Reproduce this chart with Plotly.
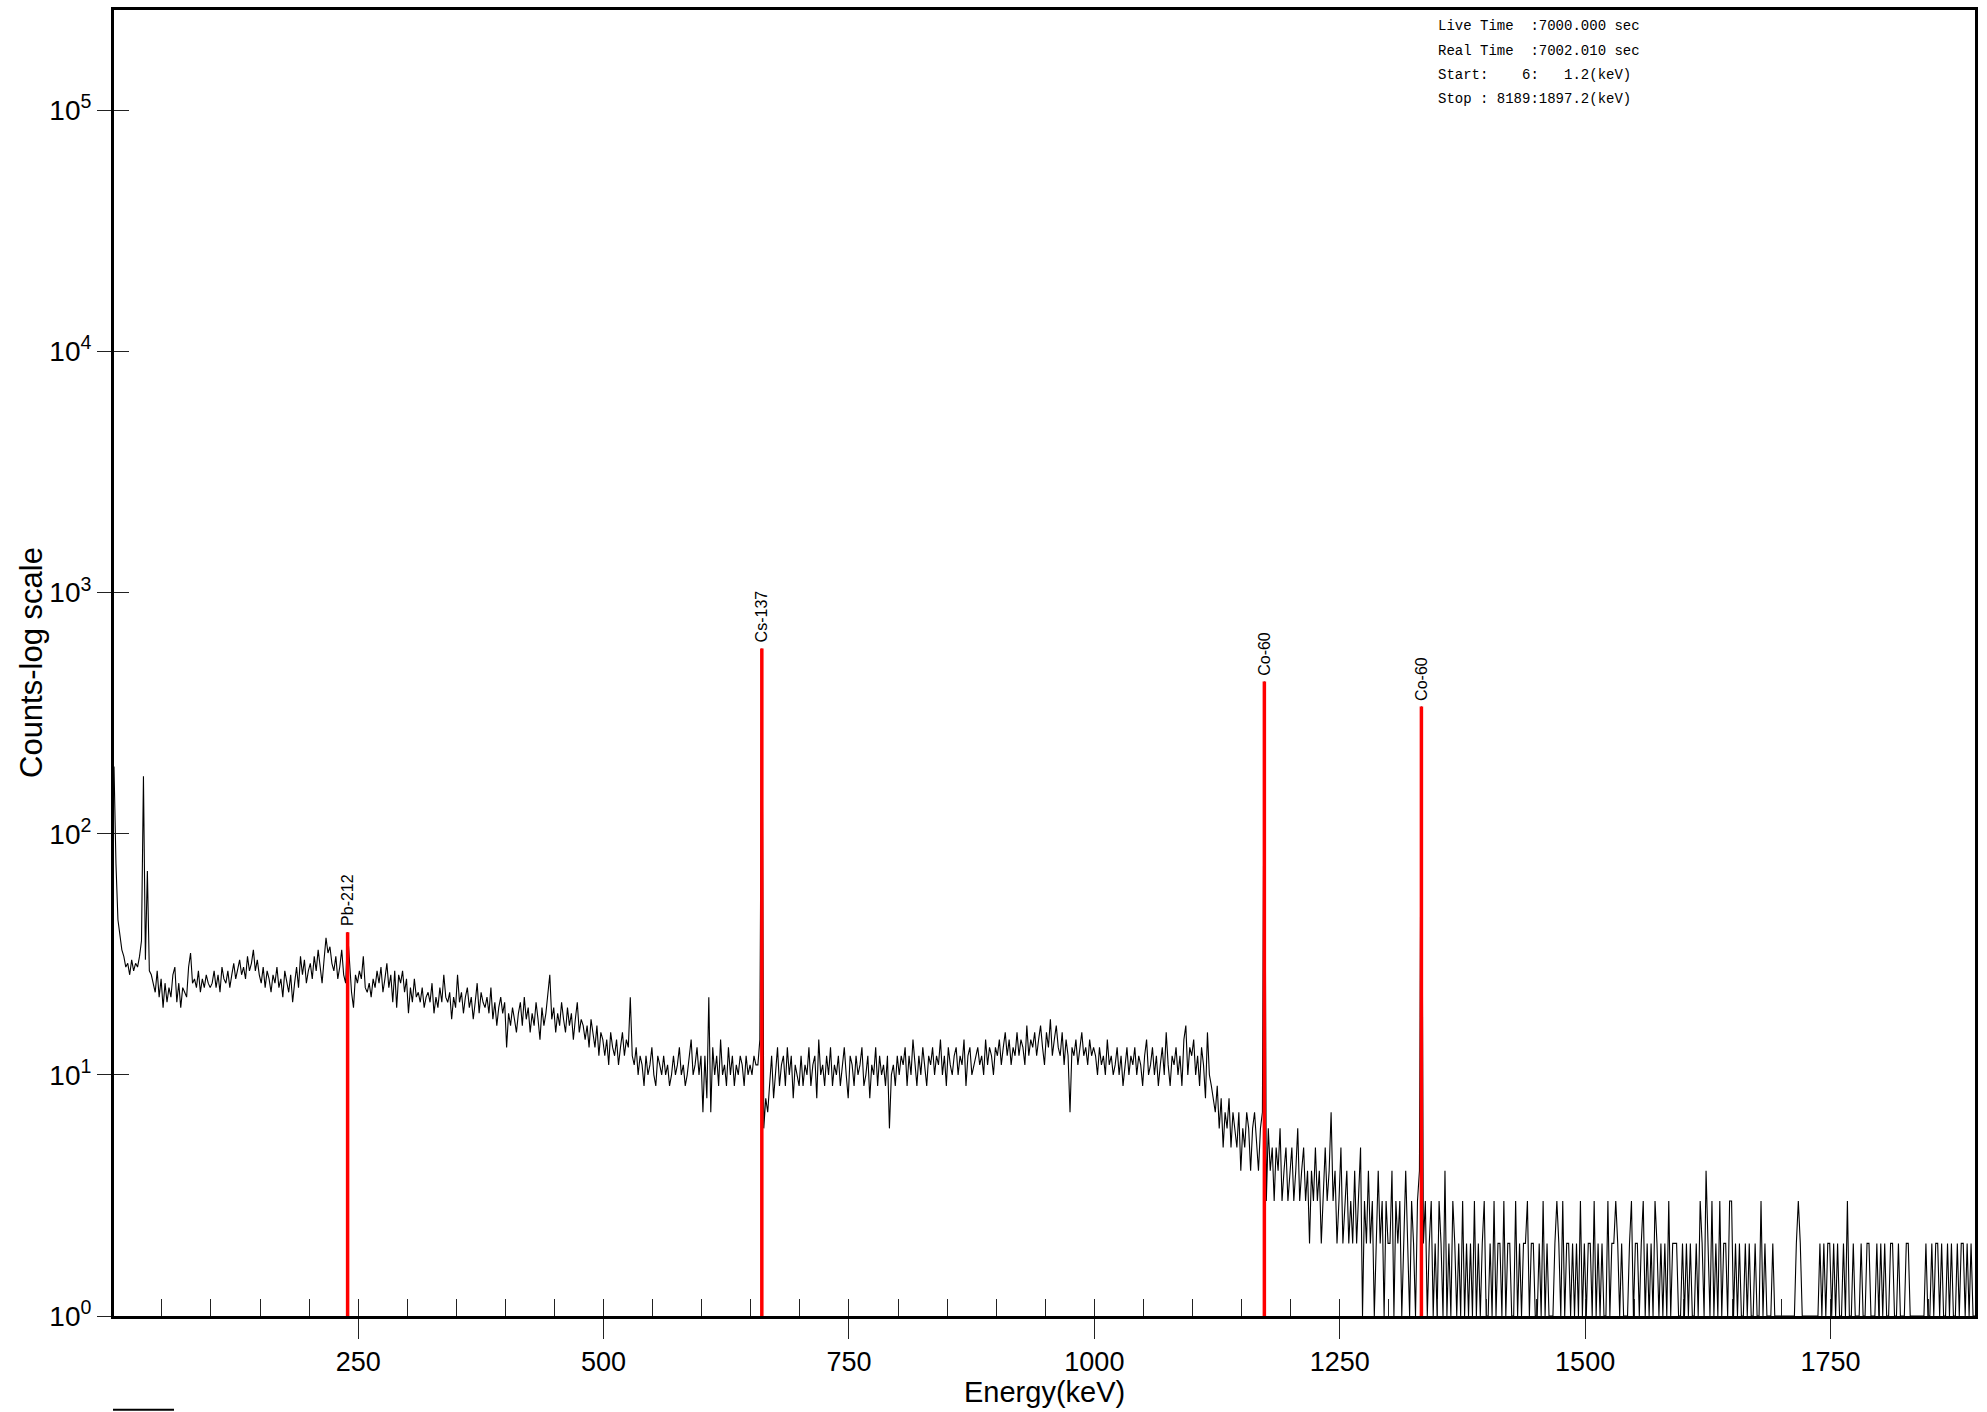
import math
import plotly.graph_objects as go

# ---------------- data ----------------
START_KEV = 1.2          # first displayed channel energy
STEP_KEV = 2.0           # display bin width (keV)

counts_0001_0099 = [190, 75, 44, 37, 33, 31, 28, 29, 26, 30,
                    27, 29, 28, 31, 36, 173, 30, 70, 27, 26,
                    24, 22, 27, 21, 25, 19, 24, 20, 23, 21,
                    26, 28, 20, 24, 19, 23, 22, 21, 28, 32,
                    24, 25, 23, 27, 22, 25, 23, 26, 24, 23]
counts_0101_0199 = [24, 27, 23, 26, 22, 28, 25, 24, 27, 23,
                    26, 29, 25, 27, 30, 26, 28, 25, 31, 27,
                    29, 33, 27, 30, 26, 24, 28, 23, 27, 25,
                    22, 26, 24, 28, 23, 25, 21, 27, 24, 22,
                    26, 20, 24, 28, 23, 31, 26, 30, 24, 27]
counts_0201_0299 = [29, 25, 31, 27, 33, 28, 24, 30, 37, 32,
                    34, 29, 27, 31, 25, 28, 33, 26, 24, 39,
                    28, 22, 19, 26, 24, 27, 25, 31, 23, 22,
                    24, 21, 25, 23, 27, 24, 28, 22, 25, 29,
                    23, 26, 20, 27, 19, 26, 24, 27, 22, 25]
counts_0301_0399 = [18, 23, 20, 25, 21, 22, 20, 23, 19, 21,
                    22, 20, 24, 18, 21, 19, 23, 20, 26, 21,
                    20, 22, 17, 21, 19, 26, 20, 22, 18, 21,
                    23, 19, 21, 17, 20, 24, 18, 22, 20, 19,
                    21, 18, 23, 17, 20, 16, 19, 21, 18, 20]
counts_0401_0499 = [13, 18, 16, 19, 17, 15, 18, 20, 16, 21,
                    17, 19, 15, 18, 16, 20, 17, 14, 19, 16,
                    18, 21, 26, 17, 19, 15, 18, 16, 20, 17,
                    15, 19, 16, 18, 14, 17, 20, 15, 17, 16,
                    14, 16, 13, 17, 15, 13, 16, 12, 15, 14]
counts_0501_0599 = [12, 14, 11, 15, 13, 12, 14, 11, 13, 15,
                    12, 14, 13, 21, 12, 11, 13, 10, 12, 11,
                    9, 12, 10, 11, 13, 10, 9, 12, 11, 10,
                    12, 10, 11, 9, 10, 12, 10, 11, 13, 10,
                    11, 9, 10, 12, 14, 10, 11, 13, 10, 12]
counts_0601_0699 = [7, 12, 8, 21, 7, 13, 10, 12, 9, 14,
                    10, 11, 9, 13, 10, 12, 9, 11, 10, 12,
                    11, 9, 12, 10, 11, 10, 12, 11, 11, 14,
                    586, 6, 8, 7, 9, 12, 8, 10, 13, 9,
                    11, 12, 9, 13, 10, 12, 8, 11, 10, 9]
counts_0701_0799 = [12, 9, 11, 10, 13, 9, 11, 12, 8, 14,
                    10, 11, 9, 12, 10, 13, 9, 11, 10, 12,
                    9, 11, 13, 10, 8, 12, 11, 9, 12, 10,
                    11, 13, 9, 10, 12, 8, 11, 10, 13, 9,
                    12, 10, 11, 9, 12, 6, 10, 11, 9, 12]
counts_0801_0899 = [10, 12, 11, 13, 9, 12, 10, 14, 11, 9,
                    12, 10, 13, 11, 9, 12, 11, 13, 10, 12,
                    11, 14, 10, 12, 9, 13, 11, 10, 12, 13,
                    10, 12, 11, 14, 9, 12, 13, 10, 11, 12,
                    13, 11, 12, 10, 14, 11, 13, 12, 10, 13]
counts_0901_0999 = [12, 14, 11, 13, 15, 12, 14, 11, 13, 12,
                    15, 12, 14, 13, 11, 16, 12, 14, 13, 15,
                    12, 14, 16, 13, 11, 15, 13, 17, 12, 14,
                    16, 13, 12, 15, 11, 14, 12, 7, 13, 12,
                    14, 11, 13, 15, 12, 13, 11, 14, 12, 13]
counts_1001_1099 = [12, 10, 13, 11, 12, 10, 14, 11, 12, 10,
                    11, 13, 10, 12, 9, 11, 13, 10, 12, 11,
                    13, 10, 12, 11, 9, 12, 14, 10, 11, 13,
                    10, 12, 9, 11, 13, 10, 15, 11, 9, 12,
                    11, 13, 10, 12, 9, 14, 16, 10, 13, 12]
counts_1101_1199 = [14, 10, 12, 9, 13, 11, 8, 15, 10, 9,
                    8, 7, 9, 6, 8, 5, 7, 6, 8, 5,
                    7, 6, 5, 7, 4, 6, 5, 7, 6, 4,
                    6, 7, 5, 4, 6, 7, 428, 3, 6, 4,
                    5, 3, 5, 4, 6, 3, 4, 5, 3, 4]
counts_1201_1299 = [5, 3, 4, 6, 3, 4, 5, 3, 4, 2,
                    4, 3, 5, 3, 4, 2, 3, 5, 3, 4,
                    7, 3, 4, 2, 3, 5, 2, 3, 4, 2,
                    3, 2, 4, 2, 3, 5, 1, 3, 2, 4,
                    2, 3, 1, 2, 4, 2, 3, 1, 3, 2]
counts_1301_1399 = [2, 4, 1, 3, 2, 3, 1, 2, 4, 2,
                    1, 3, 2, 1, 3, 4, 337, 2, 3, 1,
                    2, 3, 1, 2, 1, 3, 2, 1, 4, 1,
                    2, 1, 3, 2, 1, 2, 1, 3, 1, 2,
                    1, 2, 1, 3, 1, 2, 1, 2, 3, 1]
counts_1401_1499 = [1, 2, 1, 3, 1, 2, 2, 1, 3, 1,
                    2, 2, 1, 1, 3, 1, 2, 1, 2, 2,
                    3, 1, 2, 2, 1, 1, 2, 1, 3, 1,
                    2, 1, 1, 1, 2, 3, 2, 1, 3, 1,
                    2, 2, 1, 2, 1, 2, 1, 3, 1, 2]
counts_1501_1599 = [1, 2, 2, 1, 3, 1, 2, 1, 2, 1,
                    1, 3, 1, 2, 2, 3, 2, 1, 2, 1,
                    1, 1, 2, 3, 1, 2, 2, 1, 2, 3,
                    1, 2, 1, 2, 1, 3, 2, 1, 2, 1,
                    2, 1, 3, 1, 2, 2, 2, 1, 1, 2]
counts_1601_1699 = [1, 2, 1, 2, 1, 1, 2, 1, 3, 2,
                    1, 4, 2, 1, 3, 1, 2, 1, 3, 1,
                    2, 2, 1, 3, 3, 1, 2, 1, 2, 1,
                    1, 2, 1, 2, 1, 1, 2, 1, 1, 3,
                    1, 2, 1, 1, 1, 2, 1, 1, 1, 1]
counts_1701_1799 = [1, 1, 1, 1, 1, 1, 1, 2, 3, 2,
                    1, 1, 1, 1, 1, 1, 1, 1, 1, 2,
                    1, 2, 1, 2, 2, 1, 2, 1, 2, 1,
                    1, 2, 1, 3, 1, 1, 2, 1, 1, 1,
                    2, 1, 1, 2, 2, 1, 1, 1, 2, 1]
counts_1801_1897 = [2, 1, 2, 1, 1, 2, 2, 1, 1, 2,
                    1, 1, 1, 2, 2, 1, 1, 1, 1, 1,
                    1, 1, 1, 2, 1, 1, 2, 1, 2, 2,
                    1, 2, 1, 1, 2, 1, 2, 1, 1, 2,
                    1, 2, 2, 1, 2, 1, 2, 1, 1]

counts = (counts_0001_0099 + counts_0101_0199 + counts_0201_0299 + counts_0301_0399
          + counts_0401_0499 + counts_0501_0599 + counts_0601_0699 + counts_0701_0799
          + counts_0801_0899 + counts_0901_0999 + counts_1001_1099 + counts_1101_1199
          + counts_1201_1299 + counts_1301_1399 + counts_1401_1499 + counts_1501_1599
          + counts_1601_1699 + counts_1701_1799 + counts_1801_1897)
energies = [round(START_KEV + STEP_KEV * i, 1) for i in range(len(counts))]

peak_names = ["Pb-212", "Cs-137", "Co-60", "Co-60"]
peak_energies = [239.2, 661.2, 1173.2, 1333.2]
peak_counts = [counts[energies.index(e)] for e in peak_energies]

x_tick_vals = [250, 500, 750, 1000, 1250, 1500, 1750]
x_tick_text = [str(v) for v in x_tick_vals]
x_minor_vals = list(range(50, 1900, 50))
y_tick_vals = [1, 10, 100, 1000, 10000, 100000]
y_tick_text = ["10<sup>%d</sup>" % i for i in range(6)]

info_lines = [
    "Live Time  :7000.000 sec",
    "Real Time  :7002.010 sec",
    "Start:    6:   1.2(keV)",
    "Stop : 8189:1897.2(keV)",
]

X_RANGE = [1.2, 1897.2]
Y_RANGE = [0, 5.416]
Y_FLOOR = 10 ** Y_RANGE[0]

# ---------------- layout geometry (pixels) ----------------
W, H = 1987, 1412
PL, PR, PT, PB = 114, 1975, 7, 1316
PW, PH = PR - PL, PB - PT


def px(x):
    return (x - PL) / PW


def py(y):
    return (PB - y) / PH


FONT = "Liberation Sans, Arial, sans-serif"
MONO = "Liberation Mono, DejaVu Sans Mono, monospace"

fig = go.Figure()

# spectrum
fig.add_trace(go.Scatter(
    x=energies, y=counts, mode="lines",
    line=dict(color="black", width=1.1),
    showlegend=False, hoverinfo="skip"))

# ROI highlight (red): one vertical stroke per identified peak, drawn on top
roi_x, roi_y = [], []
for e, c in zip(peak_energies, peak_counts):
    roi_x += [e, e, None]
    roi_y += [Y_FLOOR, c, None]
fig.add_trace(go.Scatter(
    x=roi_x, y=roi_y, mode="lines", connectgaps=False,
    line=dict(color="#ff0000", width=3.5),
    showlegend=False, hoverinfo="skip"))

# dummy for overlay axes (inner ticks)
fig.add_trace(go.Scatter(x=[None], y=[None], xaxis="x2", yaxis="y2",
                         showlegend=False, hoverinfo="skip"))

annotations = []
for name, e, c in zip(peak_names, peak_energies, peak_counts):
    annotations.append(dict(
        x=e, y=math.log10(c), xref="x", yref="y", text=name,
        textangle=-90, showarrow=False, yanchor="bottom", xanchor="center",
        yshift=4, font=dict(family=FONT, size=16, color="black")))

line_y = [23, 48, 72, 96]
for ly, txt in zip(line_y, info_lines):
    annotations.append(dict(
        x=px(1436), y=py(ly), xref="paper", yref="paper",
        text=txt.replace(" ", "\u00a0"), showarrow=False,
        xanchor="left", yanchor="middle",
        font=dict(family=MONO, size=14, color="black")))

annotations.append(dict(
    x=0.5, y=py(1392), xref="paper", yref="paper", text="Energy(keV)",
    showarrow=False, xanchor="center", yanchor="middle",
    font=dict(family=FONT, size=29, color="black")))
annotations.append(dict(
    x=px(31), y=0.5, xref="paper", yref="paper", text="Counts-log scale",
    textangle=-90, showarrow=False, xanchor="center", yanchor="middle",
    font=dict(family=FONT, size=31, color="black")))

fig.update_layout(
    width=W, height=H,
    margin=dict(l=PL, r=W - PR, t=PT, b=H - PB, pad=0),
    paper_bgcolor="white", plot_bgcolor="white",
    hovermode=False,
    font=dict(family=FONT, color="black"),
    xaxis=dict(
        range=X_RANGE, showgrid=False, zeroline=False,
        showline=True, linecolor="black", linewidth=3, mirror=True,
        tickmode="array", tickvals=x_tick_vals, ticktext=x_tick_text,
        ticks="outside", ticklen=20, tickwidth=1, tickcolor="#222",
        tickfont=dict(family=FONT, size=27, color="black")),
    yaxis=dict(
        type="log", range=Y_RANGE, showgrid=False, zeroline=False,
        showline=True, linecolor="black", linewidth=3, mirror=True,
        tickmode="array", tickvals=y_tick_vals, ticktext=y_tick_text,
        ticks="outside", ticklen=14, tickwidth=1, tickcolor="#222",
        tickfont=dict(family=FONT, size=28, color="black")),
    xaxis2=dict(
        overlaying="x", anchor="y", side="bottom", range=X_RANGE,
        showgrid=False, zeroline=False, showline=False,
        tickmode="array", tickvals=x_minor_vals, showticklabels=False,
        ticks="inside", ticklen=17, tickwidth=1, tickcolor="#222"),
    yaxis2=dict(
        overlaying="y", anchor="x", side="left", type="log", range=Y_RANGE,
        showgrid=False, zeroline=False, showline=False,
        tickmode="array", tickvals=y_tick_vals, showticklabels=False,
        ticks="inside", ticklen=15, tickwidth=1, tickcolor="#222"),
    annotations=annotations,
    shapes=[dict(type="line", xref="paper", yref="paper",
                 x0=px(113), x1=px(174), y0=py(1410), y1=py(1410),
                 line=dict(color="black", width=2))],
)

fig.write_html("out.html", config={"displayModeBar": False},
               post_script="document.body.style.margin='0px';")
